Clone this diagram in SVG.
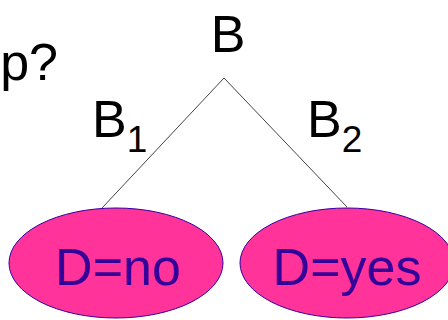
<svg xmlns="http://www.w3.org/2000/svg" width="448" height="320" viewBox="0 0 448 320">
  <style>
    .lbl { font-family: "Liberation Sans", Arial, sans-serif; font-size: 52px; fill: #000; }
    .sub { font-size: 37px; }
    .leaf ellipse { fill: #FF3399; stroke: #3300A0; stroke-width: 1; }
    .leaf text { font-family: "Liberation Sans", Arial, sans-serif; font-size: 52px; fill: #330099; text-anchor: middle; }
    .edge { stroke: #444; stroke-width: 1; fill: none; }
  </style>
  <rect width="448" height="320" fill="#fff"/>

  <text class="lbl" x="58" y="80" text-anchor="end">p?</text>

  <g id="root">
    <text class="lbl" x="228" y="52" text-anchor="middle">B</text>
  </g>

  <g id="edges">
    <line class="edge" x1="224" y1="78" x2="102" y2="208"/>
    <line class="edge" x1="224" y1="78" x2="347" y2="207"/>
    <text class="lbl" x="92" y="137">B<tspan class="sub" dy="15">1</tspan></text>
    <text class="lbl" x="307" y="137">B<tspan class="sub" dy="15">2</tspan></text>
  </g>

  <g id="leaf-no" class="leaf">
    <ellipse cx="116" cy="263" rx="107" ry="55"/>
    <text x="118" y="285">D=no</text>
  </g>

  <g id="leaf-yes" class="leaf">
    <ellipse cx="347" cy="263" rx="107" ry="55"/>
    <text x="347" y="285">D=yes</text>
  </g>
</svg>
